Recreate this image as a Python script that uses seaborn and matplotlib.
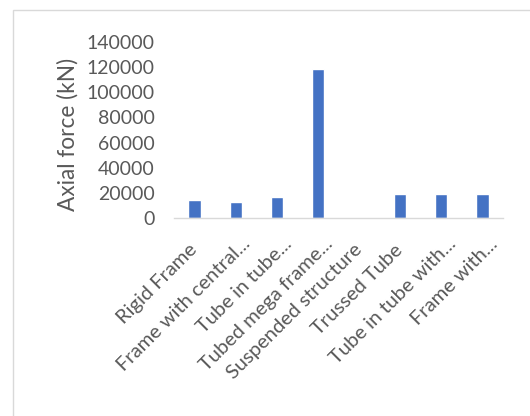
import matplotlib
matplotlib.use("Agg")
import matplotlib.pyplot as plt
import matplotlib.transforms as mtransforms
import seaborn as sns
import pandas as pd
from matplotlib.patches import Rectangle

categories = [
    "Rigid Frame",
    "Frame with central...",
    "Tube in tube...",
    "Tubed mega frame...",
    "Suspended structure",
    "Trussed Tube",
    "Tube in tube with...",
    "Frame with...",
]
axial_force = [14300, 13000, 17000, 118500, 0, 19100, 19100, 19100]
y_ticks = [0, 20000, 40000, 60000, 80000, 100000, 120000, 140000]

df = pd.DataFrame({"system": categories, "force": axial_force})

sns.set_theme(style="white")
plt.rcParams["font.family"] = ["Lato", "DejaVu Sans"]

fig = plt.figure(figsize=(5.30, 4.16), dpi=100)
fig.patch.set_facecolor("white")

# chart area frame
fig.patches.append(Rectangle((13 / 530, -0.1), 1.2, 1 - 10 / 416 + 0.1,
                             transform=fig.transFigure, fill=False,
                             edgecolor="#d9d9d9", linewidth=1.0))

ax = fig.add_axes([174 / 530, 1 - 218 / 416, 329 / 530, 176 / 416])
sns.barplot(data=df, x="system", y="force", color="#4472C4", width=0.3,
            saturation=1, ax=ax)

grey = "#595959"
ax.set_ylim(0, 140000)
ax.set_yticks(y_ticks)
ax.set_yticklabels([str(v) for v in y_ticks], color=grey, fontsize=14)
ax.set_xlim(-0.5, len(categories) - 0.5)
ax.set_xlabel("")
ax.set_ylabel("Axial force (kN)", color=grey, fontsize=16.3)
ax.yaxis.set_label_coords(-0.289, 0.472)
ax.tick_params(axis="y", length=0, pad=14)
ax.tick_params(axis="x", length=0, pad=18)
ax.set_xticks(range(len(categories)))
ax.set_xticklabels(categories, rotation=45, ha="right", va="center",
                   rotation_mode="anchor", color=grey, fontsize=14.5)
# truncated labels sit a little further along the slant
for lbl in ax.get_xticklabels():
    if lbl.get_text().endswith("..."):
        dx, dy = 12 / 100, 2 / 100
    else:
        dx, dy = 0.0, -4 / 100
    shift = mtransforms.ScaledTranslation(dx, dy, fig.dpi_scale_trans)
    lbl.set_transform(lbl.get_transform() + shift)
for side in ["top", "right", "left"]:
    ax.spines[side].set_visible(False)
ax.spines["bottom"].set_color("#d9d9d9")
ax.spines["bottom"].set_linewidth(1.0)
ax.set_facecolor("white")

fig.savefig("out.png", dpi=100, facecolor="white")
